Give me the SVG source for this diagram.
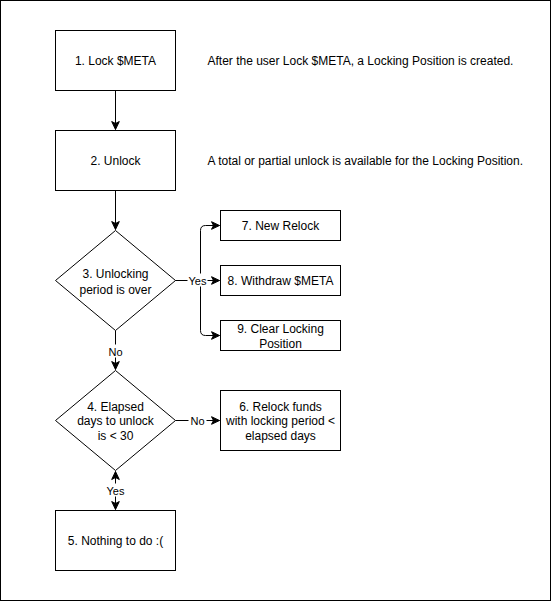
<svg xmlns="http://www.w3.org/2000/svg" width="551" height="601" viewBox="0 0 551 601">
<style>
.box{fill:#fff;stroke:#000;stroke-width:1}
.t{font-family:"Liberation Sans",Arial,sans-serif;font-size:12px;fill:#000;text-anchor:middle}
.note{font-family:"Liberation Sans",Arial,sans-serif;font-size:12px;fill:#000}
.lbl{font-family:"Liberation Sans",Arial,sans-serif;font-size:11px;fill:#000;text-anchor:middle}
.e{fill:none;stroke:#000;stroke-width:1}
</style>
<defs>
<marker id="arr" markerUnits="userSpaceOnUse" markerWidth="10" markerHeight="10" viewBox="0 0 10 10" refX="9" refY="5" orient="auto-start-reverse">
<path d="M1,1.2 L9,5 L1,8.8 L3,5 Z" fill="#000" stroke="#000" stroke-width="1"/>
</marker>
</defs>
<rect x="0.5" y="0.5" width="550" height="600" fill="#fff" stroke="#000"/>
<g transform="translate(0.5,0.5)">
<g id="connectors">
<path class="e" d="M115,90 L115,129" marker-end="url(#arr)"/>
<path class="e" d="M115,190 L115,229" marker-end="url(#arr)"/>
<path class="e" d="M175,280 L219,280" marker-end="url(#arr)"/>
<path class="e" d="M175,280 L195,280 Q200,280 200,275 L200,230 Q200,225 205,225 L219,225" marker-end="url(#arr)"/>
<path class="e" d="M175,280 L195,280 Q200,280 200,285 L200,330 Q200,335 205,335 L219,335" marker-end="url(#arr)"/>
<path class="e" d="M115,330 L115,369" marker-end="url(#arr)"/>
<path class="e" d="M175,420 L219,420" marker-end="url(#arr)"/>
<path class="e" d="M115,471 L115,509" marker-start="url(#arr)" marker-end="url(#arr)"/>
<rect x="187" y="273" width="20" height="13" fill="#fff"/>
<text class="lbl" x="197" y="284">Yes</text>
<rect x="106" y="344" width="18" height="13" fill="#fff"/>
<text class="lbl" x="115" y="355">No</text>
<rect x="188" y="413" width="18" height="13" fill="#fff"/>
<text class="lbl" x="197" y="424">No</text>
<rect x="105" y="483" width="20" height="13" fill="#fff"/>
<text class="lbl" x="115" y="494">Yes</text>
</g>
<g id="n1"><rect class="box" x="55" y="30" width="120" height="60"/><text class="t" x="115" y="64">1. Lock $META</text></g>
<g id="note1"><text class="note" x="207" y="64">After the user Lock $META, a Locking Position is created.</text></g>
<g id="n2"><rect class="box" x="55" y="130" width="120" height="60"/><text class="t" x="115" y="164">2. Unlock</text></g>
<g id="note2"><text class="note" x="207" y="164">A total or partial unlock is available for the Locking Position.</text></g>
<g id="n3"><path class="box" d="M115,230 L175,280 L115,330 L55,280 Z"/><text class="t" x="115" y="277">3. Unlocking</text><text class="t" x="115" y="293">period is over</text></g>
<g id="n7"><rect class="box" x="220" y="210" width="120" height="30"/><text class="t" x="280" y="229">7. New Relock</text></g>
<g id="n8"><rect class="box" x="220" y="265" width="120" height="30"/><text class="t" x="280" y="284">8. Withdraw $META</text></g>
<g id="n9"><rect class="box" x="220" y="320" width="120" height="30"/><text class="t" x="280" y="332">9. Clear Locking</text><text class="t" x="280" y="347">Position</text></g>
<g id="n4"><path class="box" d="M115,370 L175,420 L115,470 L55,420 Z"/><text class="t" x="115" y="410">4. Elapsed</text><text class="t" x="115" y="424.5">days to unlock</text><text class="t" x="115" y="439">is &lt; 30</text></g>
<g id="n6"><rect class="box" x="220" y="390" width="120" height="60"/><text class="t" x="280" y="410">6. Relock funds</text><text class="t" x="280" y="424.5">with locking period &lt;</text><text class="t" x="280" y="439">elapsed days</text></g>
<g id="n5"><rect class="box" x="55" y="510" width="120" height="60"/><text class="t" x="115" y="544">5. Nothing to do :(</text></g>
</g>
</svg>
